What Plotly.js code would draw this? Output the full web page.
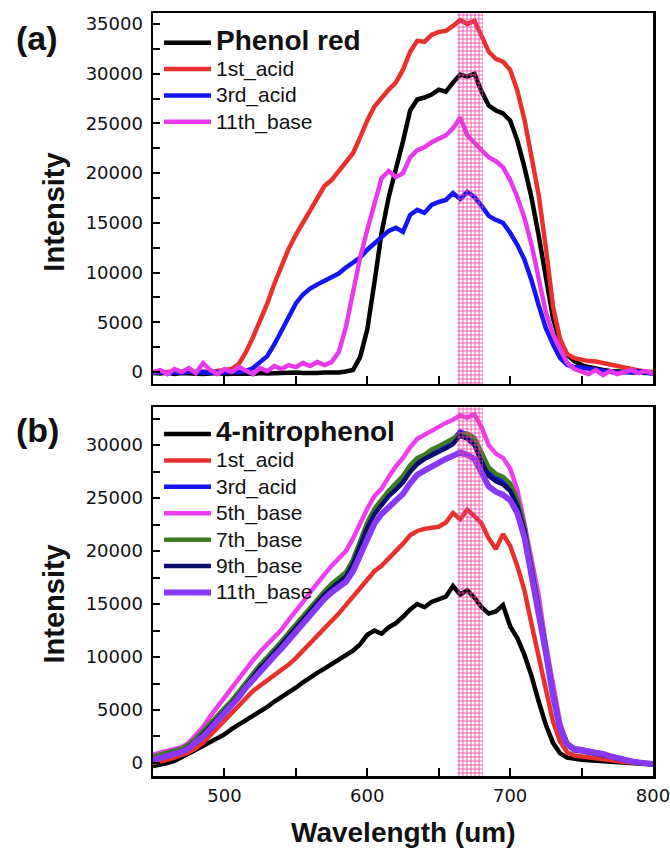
<!DOCTYPE html>
<html>
<head>
<meta charset="utf-8">
<script src="https://cdn.plot.ly/plotly-3.0.1.min.js"></script>
<style>html,body{margin:0;padding:0;background:#fff;}#chart{width:670px;height:850px;}</style>
</head>
<body>
<div id="chart"></div>
<script>
// Wavelength grid (nm)
const wavelength = [450,455,460,465,470,475,480,485,490,495,500,505,510,515,520,525,530,535,540,545,550,555,560,565,570,575,580,585,590,595,600,605,610,615,620,625,630,635,640,645,650,655,660,665,670,675,680,685,690,695,700,705,710,715,720,725,730,735,740,745,750,755,760,765,770,775,780,785,790,795,800];

// Panel (a): Phenol red
const phenolRed = [-100,-150,-50,-200,-100,-150,-100,-200,-150,-100,-200,-150,-100,-150,-200,-100,-150,-100,-150,-100,-50,-100,-150,-100,-50,-100,-50,50,200,1500,4300,9000,14000,17600,20300,23200,26300,27400,27600,27900,28400,28200,29100,29900,29700,30000,28200,26800,26300,26000,25300,23300,20600,17500,13700,9600,5400,2900,1700,1100,700,500,300,200,100,50,0,-50,0,-100,-50];
const pr1stAcid = [0,-50,0,50,0,-50,0,50,0,100,200,300,800,2000,3500,5200,6900,8900,10700,12400,13800,15000,16300,17500,18700,19300,20200,21000,22000,23600,25300,26700,27600,28400,29100,30400,32200,33300,33200,33900,34200,34300,34800,35400,35000,35300,33800,32200,31500,31200,30400,28300,25400,21700,17800,12500,6600,3300,1800,1400,1200,1100,1050,900,700,500,400,250,150,50,0];
const pr3rdAcid = [-100,0,-150,0,-100,50,-50,0,-100,0,-50,50,0,100,400,1000,1600,2800,4200,5500,6900,7800,8400,8800,9200,9500,9900,10500,11000,11500,12300,12900,13500,14200,14500,14100,15800,16300,16000,16800,17100,17300,18000,17400,18100,17600,16700,15700,15300,15000,14000,12800,11300,9200,6700,4400,2800,1400,700,500,450,350,200,100,0,-100,0,-50,100,-100,-200];
const pr11thBase = [0,200,-200,300,0,400,-100,900,200,-200,300,0,500,100,-200,400,100,600,300,700,500,900,600,1000,700,1000,2000,4500,8300,11500,14300,16800,19500,20200,19600,20000,21600,22300,22600,23100,23400,23800,24500,25600,23800,23000,22300,21600,21200,20600,19300,17600,15500,12800,9200,6000,3800,2300,900,300,100,-200,200,-300,100,-200,0,200,-100,100,-200];

// Panel (b): 4-nitrophenol
const np = [-300,-200,0,200,500,900,1250,1600,2000,2400,2700,3200,3600,4000,4400,4800,5300,5800,6200,6700,7100,7600,8100,8500,8900,9300,9800,10200,10600,11200,12100,12500,12200,12800,13200,13800,14500,15000,14700,15200,15500,15700,16700,15900,16300,15600,14700,14100,14300,14900,12900,11800,10200,8200,5800,3600,1900,900,500,350,300,250,200,150,100,50,0,-50,0,-100,-150];
const np1stAcid = [0,100,300,500,700,1000,1400,1900,2600,3300,4000,4800,5500,6200,6800,7300,7800,8300,8700,9300,9900,10600,11200,11900,12600,13400,14100,14900,15700,16600,17400,18100,18600,19300,19900,20700,21500,21900,22100,22200,22300,22700,23600,23000,23900,23300,22600,21200,20200,21600,20500,18600,16300,13100,9900,6900,3900,2000,1000,700,600,500,450,400,300,200,100,50,0,-50,-100];
const np3rdAcid = [500,700,900,1100,1300,1700,2200,2900,3600,4300,5000,5800,6600,7500,8400,9200,9900,10600,11400,12200,13000,13800,14600,15400,16100,16700,17200,17800,19000,20800,22500,23800,24700,25500,26100,26800,27800,28500,29000,29400,29700,30100,30500,31300,31000,30400,28800,27500,27000,26700,26100,24600,22100,18400,14800,10900,6700,3400,1800,1300,1200,1100,950,850,650,450,300,150,50,0,-100];
const np5thBase = [800,1000,1150,1300,1500,1900,2600,3400,4400,5300,6200,7000,7900,8800,9700,10500,11200,11900,12600,13500,14300,15200,16100,17000,17800,18600,19300,20000,21200,22700,24000,25200,25900,27000,28000,28800,29800,30600,31000,31400,31800,32100,32400,32800,32600,32900,31700,30000,29200,28800,27800,25800,22600,19100,15800,11200,7200,3800,1800,1400,1300,1150,1000,900,700,500,300,200,100,0,-100];
const np7thBase = [600,800,950,1150,1350,1750,2300,3000,3700,4400,5100,5900,6700,7600,8500,9300,10000,10700,11500,12300,13100,13900,14700,15500,16200,16900,17400,18000,19200,21000,22700,24000,24900,25700,26400,27100,28100,28800,29100,29600,29900,30300,30600,31000,31100,30700,29300,27900,27300,27000,26400,24900,22300,18600,14900,11000,6800,3500,1900,1350,1250,1100,1000,850,650,450,300,150,50,0,-100];
const np9thBase = [300,500,700,900,1100,1500,2000,2700,3400,4100,4800,5600,6400,7300,8200,9000,9700,10400,11200,12000,12800,13600,14400,15200,15900,16500,17000,17600,18800,20600,22200,23500,24400,25200,25800,26500,27500,28200,28700,29000,29300,29700,30100,30900,30600,30000,28400,27100,26600,26300,25700,24300,21900,18200,14600,10700,6500,3300,1700,1200,1100,1000,900,800,600,400,250,100,0,-50,-150];
const np11thBase = [300,500,650,850,1050,1400,1900,2500,3200,3900,4600,5400,6200,7100,7900,8700,9400,10100,10800,11600,12400,13200,14000,14800,15500,16100,16600,17100,18100,19700,21300,22600,23500,24200,24700,25400,26400,27200,27600,28000,28300,28700,29000,29300,29100,28700,27400,26100,25600,25300,24800,23600,21300,17800,14300,10400,6300,3200,1700,1300,1200,1100,950,850,650,450,300,150,50,0,-100];

// Highlighted wavelength band (nm) and axis ranges
const bandRange = [663, 681];
const xRange = [450, 800];
const yRangeA = [-1200, 36100];
const yRangeB = [-1230, 33600];

const namesA = ['Phenol red', '1st_acid', '3rd_acid', '11th_base'];
const namesB = ['4-nitrophenol', '1st_acid', '3rd_acid', '5th_base', '7th_base', '9th_base', '11th_base'];
const seriesA = [phenolRed, pr1stAcid, pr3rdAcid, pr11thBase];
const seriesB = [np, np1stAcid, np3rdAcid, np5thBase, np7thBase, np9thBase, np11thBase];
const colorsA = ['#000000', '#e8302c', '#1414f5', '#e838ee'];
const colorsB = ['#000000', '#e8302c', '#1414f5', '#f03cf0', '#3c7c1e', '#0c0c70', '#8a38f8'];

const FONT = 'Liberation Sans, Arial, sans-serif';
const traces = [];

function legendName(i, n) {
  return i === 0 ? '<b><span style="font-size:28px">' + n + '</span></b>'
                 : '<span style="font-size:21px">' + n + '</span>';
}

seriesA.forEach((s, i) => {
  traces.push({
    x: wavelength, y: s, type: 'scatter', mode: 'lines',
    name: legendName(i, namesA[i]),
    line: {color: colorsA[i], width: 4.5},
    xaxis: 'x', yaxis: 'y', legend: 'legend'
  });
});
seriesB.forEach((s, i) => {
  traces.push({
    x: wavelength, y: s, type: 'scatter', mode: 'lines',
    name: legendName(i, namesB[i]),
    line: {color: colorsB[i], width: i === 6 ? 6 : 4.5},
    xaxis: 'x2', yaxis: 'y2', legend: 'legend2'
  });
});

function band(xa, ya, yr) {
  return {
    x: [bandRange[0], bandRange[1], bandRange[1], bandRange[0], bandRange[0]],
    y: [yr[0], yr[0], yr[1], yr[1], yr[0]],
    type: 'scatter', mode: 'lines', fill: 'toself',
    line: {width: 0, color: 'rgba(0,0,0,0)'},
    fillcolor: 'rgba(255,255,255,0)',
    fillpattern: {shape: '+', fgcolor: '#ec3c9c', bgcolor: 'rgba(255,255,255,0)', size: 4, solidity: 0.35},
    showlegend: false, hoverinfo: 'skip', xaxis: xa, yaxis: ya
  };
}
traces.push(band('x', 'y', yRangeA));
traces.push(band('x2', 'y2', yRangeB));

const tickFont = {family: 'DejaVu Sans, sans-serif', size: 18, color: '#111'};
function xAxis(anchor, labels) {
  return {
    anchor: anchor, range: xRange, domain: [0, 1],
    showticklabels: labels, tickfont: tickFont, ticklabelstandoff: 2, ticklabeloverflow: 'allow',
    ticks: 'inside', ticklen: 8, tickwidth: 2, tickcolor: '#000', dtick: 100, tick0: 0,
    minor: {ticks: 'inside', ticklen: 8, tickwidth: 2, tickcolor: '#000', dtick: 50},
    showline: true, mirror: true, linewidth: 2.5, linecolor: '#000',
    showgrid: false, zeroline: false
  };
}
function yAxis(anchor, range, domain) {
  return {
    anchor: anchor, range: range, domain: domain,
    tickfont: tickFont, ticklabelstandoff: 4,
    ticks: 'inside', ticklen: 7, tickwidth: 2, tickcolor: '#000',
    dtick: 5000, tick0: 0, tickformat: 'd',
    minor: {ticks: 'inside', ticklen: 7, tickwidth: 2, tickcolor: '#000', dtick: 2500},
    showline: true, mirror: true, linewidth: 2.5, linecolor: '#000',
    showgrid: false, zeroline: false
  };
}

const legendBase = {
  xanchor: 'left', yanchor: 'top', bgcolor: 'rgba(0,0,0,0)', borderwidth: 0,
  font: {family: FONT, size: 18, color: '#111'}, tracegroupgap: 0, itemwidth: 47,
  traceorder: 'normal'
};

const layout = {
  width: 670, height: 850,
  margin: {l: 153, r: 17, t: 13, b: 74},
  paper_bgcolor: '#fff', plot_bgcolor: '#fff',
  showlegend: true,
  xaxis: xAxis('y', false),
  yaxis: yAxis('x', yRangeA, [0.5138, 1]),
  xaxis2: xAxis('y2', true),
  yaxis2: yAxis('x2', yRangeB, [0, 0.4836]),
  legend: Object.assign({x: 0.012, y: 0.985}, legendBase),
  legend2: Object.assign({x: 0.012, y: 0.472}, legendBase),
  annotations: [
    {text: '<b>(a)</b>', xref: 'paper', yref: 'paper', x: -0.232, y: 0.967, xanchor: 'center', yanchor: 'middle', showarrow: false, font: {family: FONT, size: 34, color: '#111'}},
    {text: '<b>(b)</b>', xref: 'paper', yref: 'paper', x: -0.232, y: 0.4535, xanchor: 'center', yanchor: 'middle', showarrow: false, font: {family: FONT, size: 34, color: '#111'}},
    {text: '<b>Intensity</b>', xref: 'paper', yref: 'paper', x: -0.197, y: 0.739, xanchor: 'center', yanchor: 'middle', textangle: -90, showarrow: false, font: {family: FONT, size: 29, color: '#111'}},
    {text: '<b>Intensity</b>', xref: 'paper', yref: 'paper', x: -0.197, y: 0.2254, xanchor: 'center', yanchor: 'middle', textangle: -90, showarrow: false, font: {family: FONT, size: 29, color: '#111'}},
    {text: '<b>Wavelength (um)</b>', xref: 'paper', yref: 'paper', x: 0.5, y: -0.0747, xanchor: 'center', yanchor: 'middle', showarrow: false, font: {family: FONT, size: 28, color: '#111'}}
  ]
};

Plotly.newPlot('chart', traces, layout, {displayModeBar: false, staticPlot: true});
</script>
</body>
</html>
